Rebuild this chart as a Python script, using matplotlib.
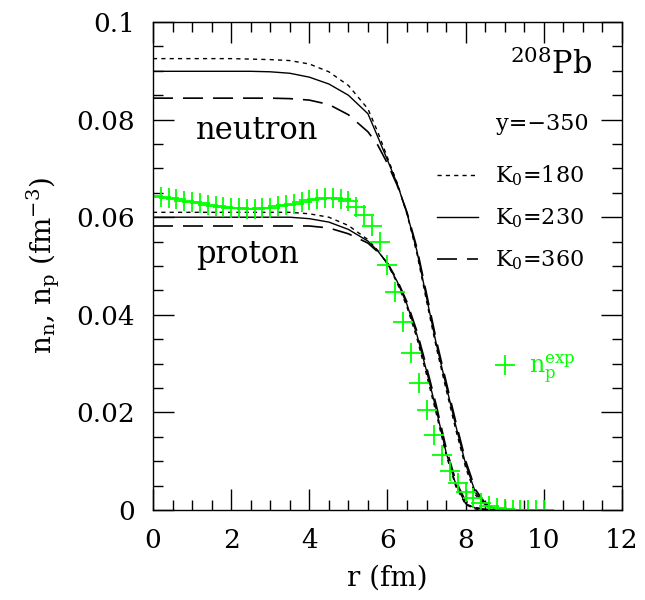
import matplotlib
matplotlib.use("Agg")
import matplotlib.pyplot as plt
from matplotlib.ticker import MultipleLocator, FixedFormatter, FixedLocator

plt.rcParams['font.family'] = ['DejaVu Serif']
plt.rcParams['mathtext.fontset'] = 'dejavuserif'

# radius grid for the model curves (fm)
r_th = [0, 0.5, 1, 1.5, 2, 2.5, 3, 3.5, 4, 4.5, 5, 5.5, 5.75, 6, 6.25, 6.5,
        6.75, 7, 7.25, 7.5, 7.75, 8, 8.25, 8.5, 8.75, 9, 9.5, 10]

# neutron densities (fm^-3)
nn_k180 = [0.0925, 0.0925, 0.0925, 0.0925, 0.0925, 0.0924, 0.0923, 0.0921, 0.0914, 0.0898,
           0.0870, 0.0822, 0.0775, 0.0722, 0.0670, 0.0606, 0.0527, 0.0428, 0.0333, 0.0247,
           0.0164, 0.0087, 0.0031, 0.0009, 0.0003, 0.0001, 0.0, 0.0]
nn_k230 = [0.0899, 0.0899, 0.0899, 0.0899, 0.0899, 0.0899, 0.0898, 0.0895, 0.0887, 0.0873,
           0.0850, 0.0812, 0.0765, 0.0717, 0.0668, 0.0608, 0.0532, 0.0435, 0.0340, 0.0255,
           0.0172, 0.0094, 0.0036, 0.0011, 0.0003, 0.0001, 0.0, 0.0]
nn_k360 = [0.0844, 0.0844, 0.0844, 0.0844, 0.0844, 0.0844, 0.0844, 0.0843, 0.0840, 0.0831,
           0.0810, 0.0775, 0.0748, 0.0710, 0.0665, 0.0610, 0.0538, 0.0443, 0.0348, 0.0263,
           0.0180, 0.0101, 0.0042, 0.0014, 0.0004, 0.0001, 0.0, 0.0]

# proton densities (fm^-3)
np_k180 = [0.0610, 0.0610, 0.0610, 0.0610, 0.0610, 0.0610, 0.0610, 0.0610, 0.0607, 0.0600,
           0.0583, 0.0554, 0.0532, 0.0504, 0.0465, 0.0416, 0.0353, 0.0277, 0.0197, 0.0113,
           0.0048, 0.0011, 0.0002, 0.0, 0.0, 0.0, 0.0, 0.0]
np_k230 = [0.0600, 0.0600, 0.0600, 0.0600, 0.0600, 0.0600, 0.0600, 0.0600, 0.0597, 0.0590,
           0.0575, 0.0551, 0.0531, 0.0505, 0.0468, 0.0421, 0.0360, 0.0285, 0.0205, 0.0118,
           0.0052, 0.0013, 0.0004, 0.0001, 0.0, 0.0, 0.0, 0.0]
np_k360 = [0.0582, 0.0582, 0.0582, 0.0582, 0.0582, 0.0582, 0.0582, 0.0582, 0.0582, 0.0578,
           0.0566, 0.0547, 0.0529, 0.0506, 0.0471, 0.0426, 0.0367, 0.0293, 0.0214, 0.0127,
           0.0059, 0.0018, 0.0005, 0.0001, 0.0, 0.0, 0.0, 0.0]

# experimental proton density, every 0.2 fm from 0 to 10 fm
r_exp = [0.0, 0.2, 0.4, 0.6, 0.8, 1.0, 1.2, 1.4, 1.6, 1.8, 2.0, 2.2, 2.4, 2.6, 2.8, 3.0, 3.2,
         3.4, 3.6, 3.8, 4.0, 4.2, 4.4, 4.6, 4.8, 5.0, 5.2, 5.4, 5.6, 5.8, 6.0, 6.2, 6.4, 6.6,
         6.8, 7.0, 7.2, 7.4, 7.6, 7.8, 8.0, 8.2, 8.4, 8.6, 8.8, 9.0, 9.2, 9.4, 9.6, 9.8, 10.0]
np_exp = [0.0643, 0.0641, 0.0639, 0.0637, 0.0634, 0.0632, 0.0629, 0.0626, 0.0623, 0.0620,
          0.0619, 0.0618, 0.0617, 0.0617, 0.0618, 0.0619, 0.0622, 0.0625, 0.0628, 0.0632,
          0.0635, 0.0638, 0.0640, 0.0640, 0.0638, 0.0633, 0.0620, 0.0604, 0.0583, 0.0550,
          0.0502, 0.0446, 0.0385, 0.0322, 0.0261, 0.0205, 0.0153, 0.0112, 0.0080, 0.0055,
          0.0037, 0.0025, 0.0015, 0.0008, 0.0004, 0.0002, 0.0001, 0.0001, 0.0, 0.0, 0.0]

k_labels = ["K$_0$=180", "K$_0$=230", "K$_0$=360"]
green = "#00ff00"

fig = plt.figure(figsize=(6.45, 6.0), dpi=100)
ax = fig.add_axes([0.2372, 0.15, 0.7271, 0.8133])

ls_dot = (0, (3, 3))
ls_dash = (0, (12, 6))
l1, = ax.plot(r_th, nn_k180, color="black", lw=1.0, ls=ls_dot)
l2, = ax.plot(r_th, nn_k230, color="black", lw=1.0, ls="-")
l3, = ax.plot(r_th, nn_k360, color="black", lw=1.2, ls=ls_dash)
ax.plot(r_th, np_k180, color="black", lw=1.0, ls=ls_dot)
ax.plot(r_th, np_k230, color="black", lw=1.0, ls="-")
ax.plot(r_th, np_k360, color="black", lw=1.2, ls=ls_dash)
ex, = ax.plot(r_exp, np_exp, ls="none", marker="+", ms=14, mew=1.3, color=green)

ax.set_xlim(0, 12)
ax.set_ylim(0, 0.1)
ax.xaxis.set_major_locator(MultipleLocator(2))
ax.xaxis.set_minor_locator(MultipleLocator(0.5))
ax.yaxis.set_major_locator(FixedLocator([0, 0.02, 0.04, 0.06, 0.08, 0.1]))
ax.yaxis.set_major_formatter(FixedFormatter(["0", "0.02", "0.04", "0.06", "0.08", "0.1"]))
ax.yaxis.set_minor_locator(MultipleLocator(0.005))
ax.tick_params(which="both", direction="in", top=True, right=True, width=1.0)
ax.tick_params(which="major", length=15, labelsize=19, pad=13)
ax.tick_params(which="minor", length=7.5)
for s in ax.spines.values():
    s.set_linewidth(1.0)

ax.set_xlabel("r (fm)", fontsize=20, labelpad=8)
ax.set_ylabel(r"n$_\mathrm{n}$, n$_\mathrm{p}$ (fm$^{-3}$)", fontsize=20, labelpad=10)

ax.text(2.66, 0.0777, "neutron", fontsize=22, ha="center", va="center")
ax.text(2.43, 0.0524, "proton", fontsize=22, ha="center", va="center")
ax.text(11.25, 0.0912, "$^{208}$Pb", fontsize=22, ha="right", va="center")
ax.text(9.95, 0.079, "y=\u2212350", fontsize=16, ha="center", va="center")

leg1 = ax.legend([l1, l2, l3], k_labels, loc="upper left", bbox_to_anchor=(0.6055, 0.71),
                 frameon=False, fontsize=16, handlelength=1.85, handletextpad=0.77,
                 labelspacing=0.83, borderpad=0, borderaxespad=0)
ax.add_artist(leg1)
ax.legend([ex], [r"$\mathrm{n_p^{exp}}$"], loc="center left", bbox_to_anchor=(0.727, 0.289),
          frameon=False, fontsize=17, handlelength=0.9, handletextpad=0.6,
          borderpad=0, borderaxespad=0, labelcolor=green)

fig.savefig("out.png", dpi=100)
